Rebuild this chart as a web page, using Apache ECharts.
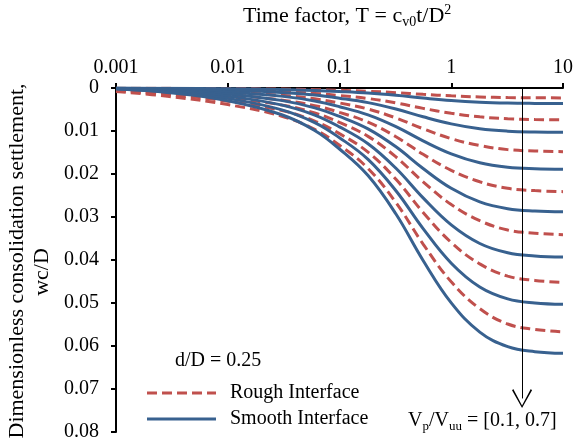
<!DOCTYPE html>
<html>
<head>
<meta charset="utf-8">
<script src="https://cdn.jsdelivr.net/npm/echarts@6/dist/echarts.min.js"></script>
<style>html,body{margin:0;padding:0;background:#fff}#c{width:576px;height:442px}</style>
</head>
<body>
<div id="c"></div>
<script>
// Time factor values (x)
const T = [0.001, 0.003, 0.01, 0.03, 0.06, 0.1, 0.18, 0.32, 0.56, 1, 1.8, 3.2, 5.6, 10];
const xTicks = [0.001, 0.01, 0.1, 1, 10];
const yTicks = [0, 0.01, 0.02, 0.03, 0.04, 0.05, 0.06, 0.07, 0.08];

// Rough interface, Vp/Vuu = 0.1 ... 0.7
const rough01 = [0.00003, 0.00008, 0.00016, 0.00026, 0.00039, 0.00054, 0.00076, 0.00108, 0.00147, 0.00183, 0.00208, 0.00223, 0.00228, 0.0023];
const rough02 = [0.0001, 0.00026, 0.0005, 0.00085, 0.00126, 0.00174, 0.00244, 0.00348, 0.00474, 0.00588, 0.0067, 0.00716, 0.00733, 0.0074];
const rough03 = [0.00021, 0.00052, 0.00101, 0.0017, 0.00252, 0.00348, 0.00488, 0.00696, 0.00947, 0.01177, 0.01339, 0.01433, 0.01465, 0.0148];
const rough04 = [0.00034, 0.00084, 0.00164, 0.00277, 0.0041, 0.00566, 0.00795, 0.01133, 0.01542, 0.01916, 0.02181, 0.02333, 0.02386, 0.0241];
const rough05 = [0.00048, 0.00119, 0.00232, 0.00392, 0.0058, 0.00801, 0.01125, 0.01603, 0.02182, 0.02711, 0.03086, 0.03301, 0.03376, 0.0341];
const rough06 = [0.00063, 0.00158, 0.00307, 0.0052, 0.00768, 0.01062, 0.01492, 0.02124, 0.02893, 0.03593, 0.04091, 0.04375, 0.04475, 0.0452];
const rough07 = [0.00079, 0.00198, 0.00386, 0.00652, 0.00964, 0.01332, 0.01871, 0.02665, 0.03629, 0.04508, 0.05131, 0.05489, 0.05613, 0.0567];

// Smooth interface, Vp/Vuu = 0.1 ... 0.7
const smooth01 = [0.00001, 0.00006, 0.00017, 0.00036, 0.00058, 0.00083, 0.00119, 0.00171, 0.00234, 0.00292, 0.00331, 0.00351, 0.00358, 0.0036];
const smooth02 = [0.00003, 0.00019, 0.00049, 0.00103, 0.00165, 0.00237, 0.0034, 0.00489, 0.0067, 0.00834, 0.00948, 0.01004, 0.01024, 0.0103];
const smooth03 = [0.00006, 0.00034, 0.00091, 0.00189, 0.00302, 0.00435, 0.00624, 0.00898, 0.01229, 0.01531, 0.01739, 0.01843, 0.01879, 0.0189];
const smooth04 = [0.00009, 0.00052, 0.00138, 0.00288, 0.00461, 0.00662, 0.0095, 0.01368, 0.01872, 0.02333, 0.0265, 0.02808, 0.02863, 0.0288];
const smooth05 = [0.00012, 0.00071, 0.00189, 0.00393, 0.00629, 0.00904, 0.01297, 0.01867, 0.02555, 0.03183, 0.03616, 0.03832, 0.03906, 0.0393];
const smooth06 = [0.00015, 0.00091, 0.00241, 0.00503, 0.00805, 0.01157, 0.0166, 0.02389, 0.0327, 0.04074, 0.04628, 0.04904, 0.05, 0.0503];
const smooth07 = [0.00019, 0.00111, 0.00296, 0.00617, 0.00987, 0.01419, 0.02036, 0.02931, 0.04011, 0.04998, 0.05676, 0.06016, 0.06133, 0.0617];

// Arrow annotation (Vp/Vuu increasing), at T ~ 4.3
const arrowT = 4.3;
const arrowFrom = 0;
const arrowTo = 0.0722;

const roughSets = [rough01, rough02, rough03, rough04, rough05, rough06, rough07];
const smoothSets = [smooth01, smooth02, smooth03, smooth04, smooth05, smooth06, smooth07];

const RED = '#C0504D';
const BLUE = '#38618F';
const FONT = 'Liberation Serif';

const zip = arr => T.map((t, i) => [t, arr[i]]);

const series = [];
roughSets.forEach(arr => series.push({
  name: 'Rough Interface', type: 'line', data: zip(arr), symbol: 'none', smooth: 0.4,
  lineStyle: { color: RED, width: 3, type: [10, 5] }, itemStyle: { color: RED }, silent: true
}));
smoothSets.forEach(arr => series.push({
  name: 'Smooth Interface', type: 'line', data: zip(arr), symbol: 'none', smooth: 0.4,
  lineStyle: { color: BLUE, width: 3 }, itemStyle: { color: BLUE }, silent: true
}));
series.push({
  name: 'arrow', type: 'line', data: [], silent: true,
  markLine: {
    silent: true, animation: false,
    symbol: ['none', 'path://M8,0 L0,14 L1,15 L8,2 L15,15 L16,14 Z'],
    symbolSize: [20, 19],
    label: { show: false },
    lineStyle: { color: '#000', width: 1, type: 'solid' },
    data: [[{ coord: [arrowT, arrowFrom] }, { coord: [arrowT, arrowTo] }]]
  }
});

const DASH_ICON = 'path://M0,0h10v3h-10z M15,0h10v3h-10z M30,0h10v3h-10z M45,0h10v3h-10z M60,0h9v3h-9z';
const SOLID_ICON = 'path://M0,0h69v3h-69z';

const chart = echarts.init(document.getElementById('c'), null, { renderer: 'canvas' });
chart.setOption({
  animation: false,
  backgroundColor: '#fff',
  textStyle: { fontFamily: FONT },
  grid: { left: 116, right: 11, top: 88, bottom: 9, containLabel: false },
  xAxis: {
    type: 'log', logBase: 10, min: 0.001, max: 10, position: 'top',
    axisLine: { show: true, lineStyle: { color: '#000', width: 2 } },
    axisTick: { show: true, inside: false, length: 5, lineStyle: { color: '#000', width: 2 } },
    minorTick: { show: false },
    splitLine: { show: false },
    axisLabel: {
      margin: 10, color: '#000', fontSize: 20, fontFamily: FONT,
      formatter: v => { const m = xTicks.find(t => Math.abs(t - v) / t < 1e-6); return m === undefined ? '' : String(m); }
    }
  },
  yAxis: {
    type: 'value', inverse: true, min: 0, max: 0.08, interval: 0.01,
    axisLine: { show: true, lineStyle: { color: '#000', width: 2 } },
    axisTick: { show: true, inside: false, length: 5, lineStyle: { color: '#000', width: 2 } },
    splitLine: { show: false },
    axisLabel: {
      margin: 17, color: '#000', fontSize: 20, fontFamily: FONT,
      formatter: v => { const m = yTicks.find(t => Math.abs(t - v) < 1e-9); return m === undefined ? '' : String(m); }
    }
  },
  legend: {
    data: [
      { name: 'Rough Interface', icon: DASH_ICON, itemStyle: { color: RED, borderWidth: 0 } },
      { name: 'Smooth Interface', icon: SOLID_ICON, itemStyle: { color: BLUE, borderWidth: 0 } }
    ],
    orient: 'vertical', left: 142, top: 376,
    itemWidth: 69, itemHeight: 3, itemGap: 2,
    textStyle: { fontSize: 20, fontFamily: FONT, color: '#000', lineHeight: 24, padding: [0, 0, 0, 9] },
    selectedMode: false
  },
  graphic: [
    {
      type: 'text', left: 243, top: 3,
      style: {
        text: 'Time factor, T = c{sub|v0}t/D{sup|2}',
        font: '22px ' + FONT, fill: '#000',
        rich: {
          sub: { fontSize: 14, fontFamily: FONT, padding: [12, 0, 0, 0] },
          sup: { fontSize: 14, fontFamily: FONT, padding: [0, 0, 12, 0] }
        }
      }
    },
    {
      type: 'text', x: 17, y: 261, rotation: Math.PI / 2,
      style: { text: 'Dimensionless consolidation settlement,', font: '22px ' + FONT, fill: '#000', align: 'center', verticalAlign: 'middle' }
    },
    {
      type: 'text', x: 42, y: 272, rotation: Math.PI / 2,
      style: { text: 'wc/D', font: '22px ' + FONT, fill: '#000', align: 'center', verticalAlign: 'middle' }
    },
    {
      type: 'text', x: 175, y: 361,
      style: { text: 'd/D = 0.25', font: '20px ' + FONT, fill: '#000', align: 'left', verticalAlign: 'middle' }
    },
    {
      type: 'text', x: 408, y: 421,
      style: {
        text: 'V{sub|p}/V{sub|uu} = [0.1, 0.7]',
        font: '20px ' + FONT, fill: '#000', align: 'left', verticalAlign: 'middle',
        rich: { sub: { fontSize: 13, fontFamily: FONT, padding: [12, 0, 0, 0] } }
      }
    }
  ],
  series: series
});
</script>
</body>
</html>
